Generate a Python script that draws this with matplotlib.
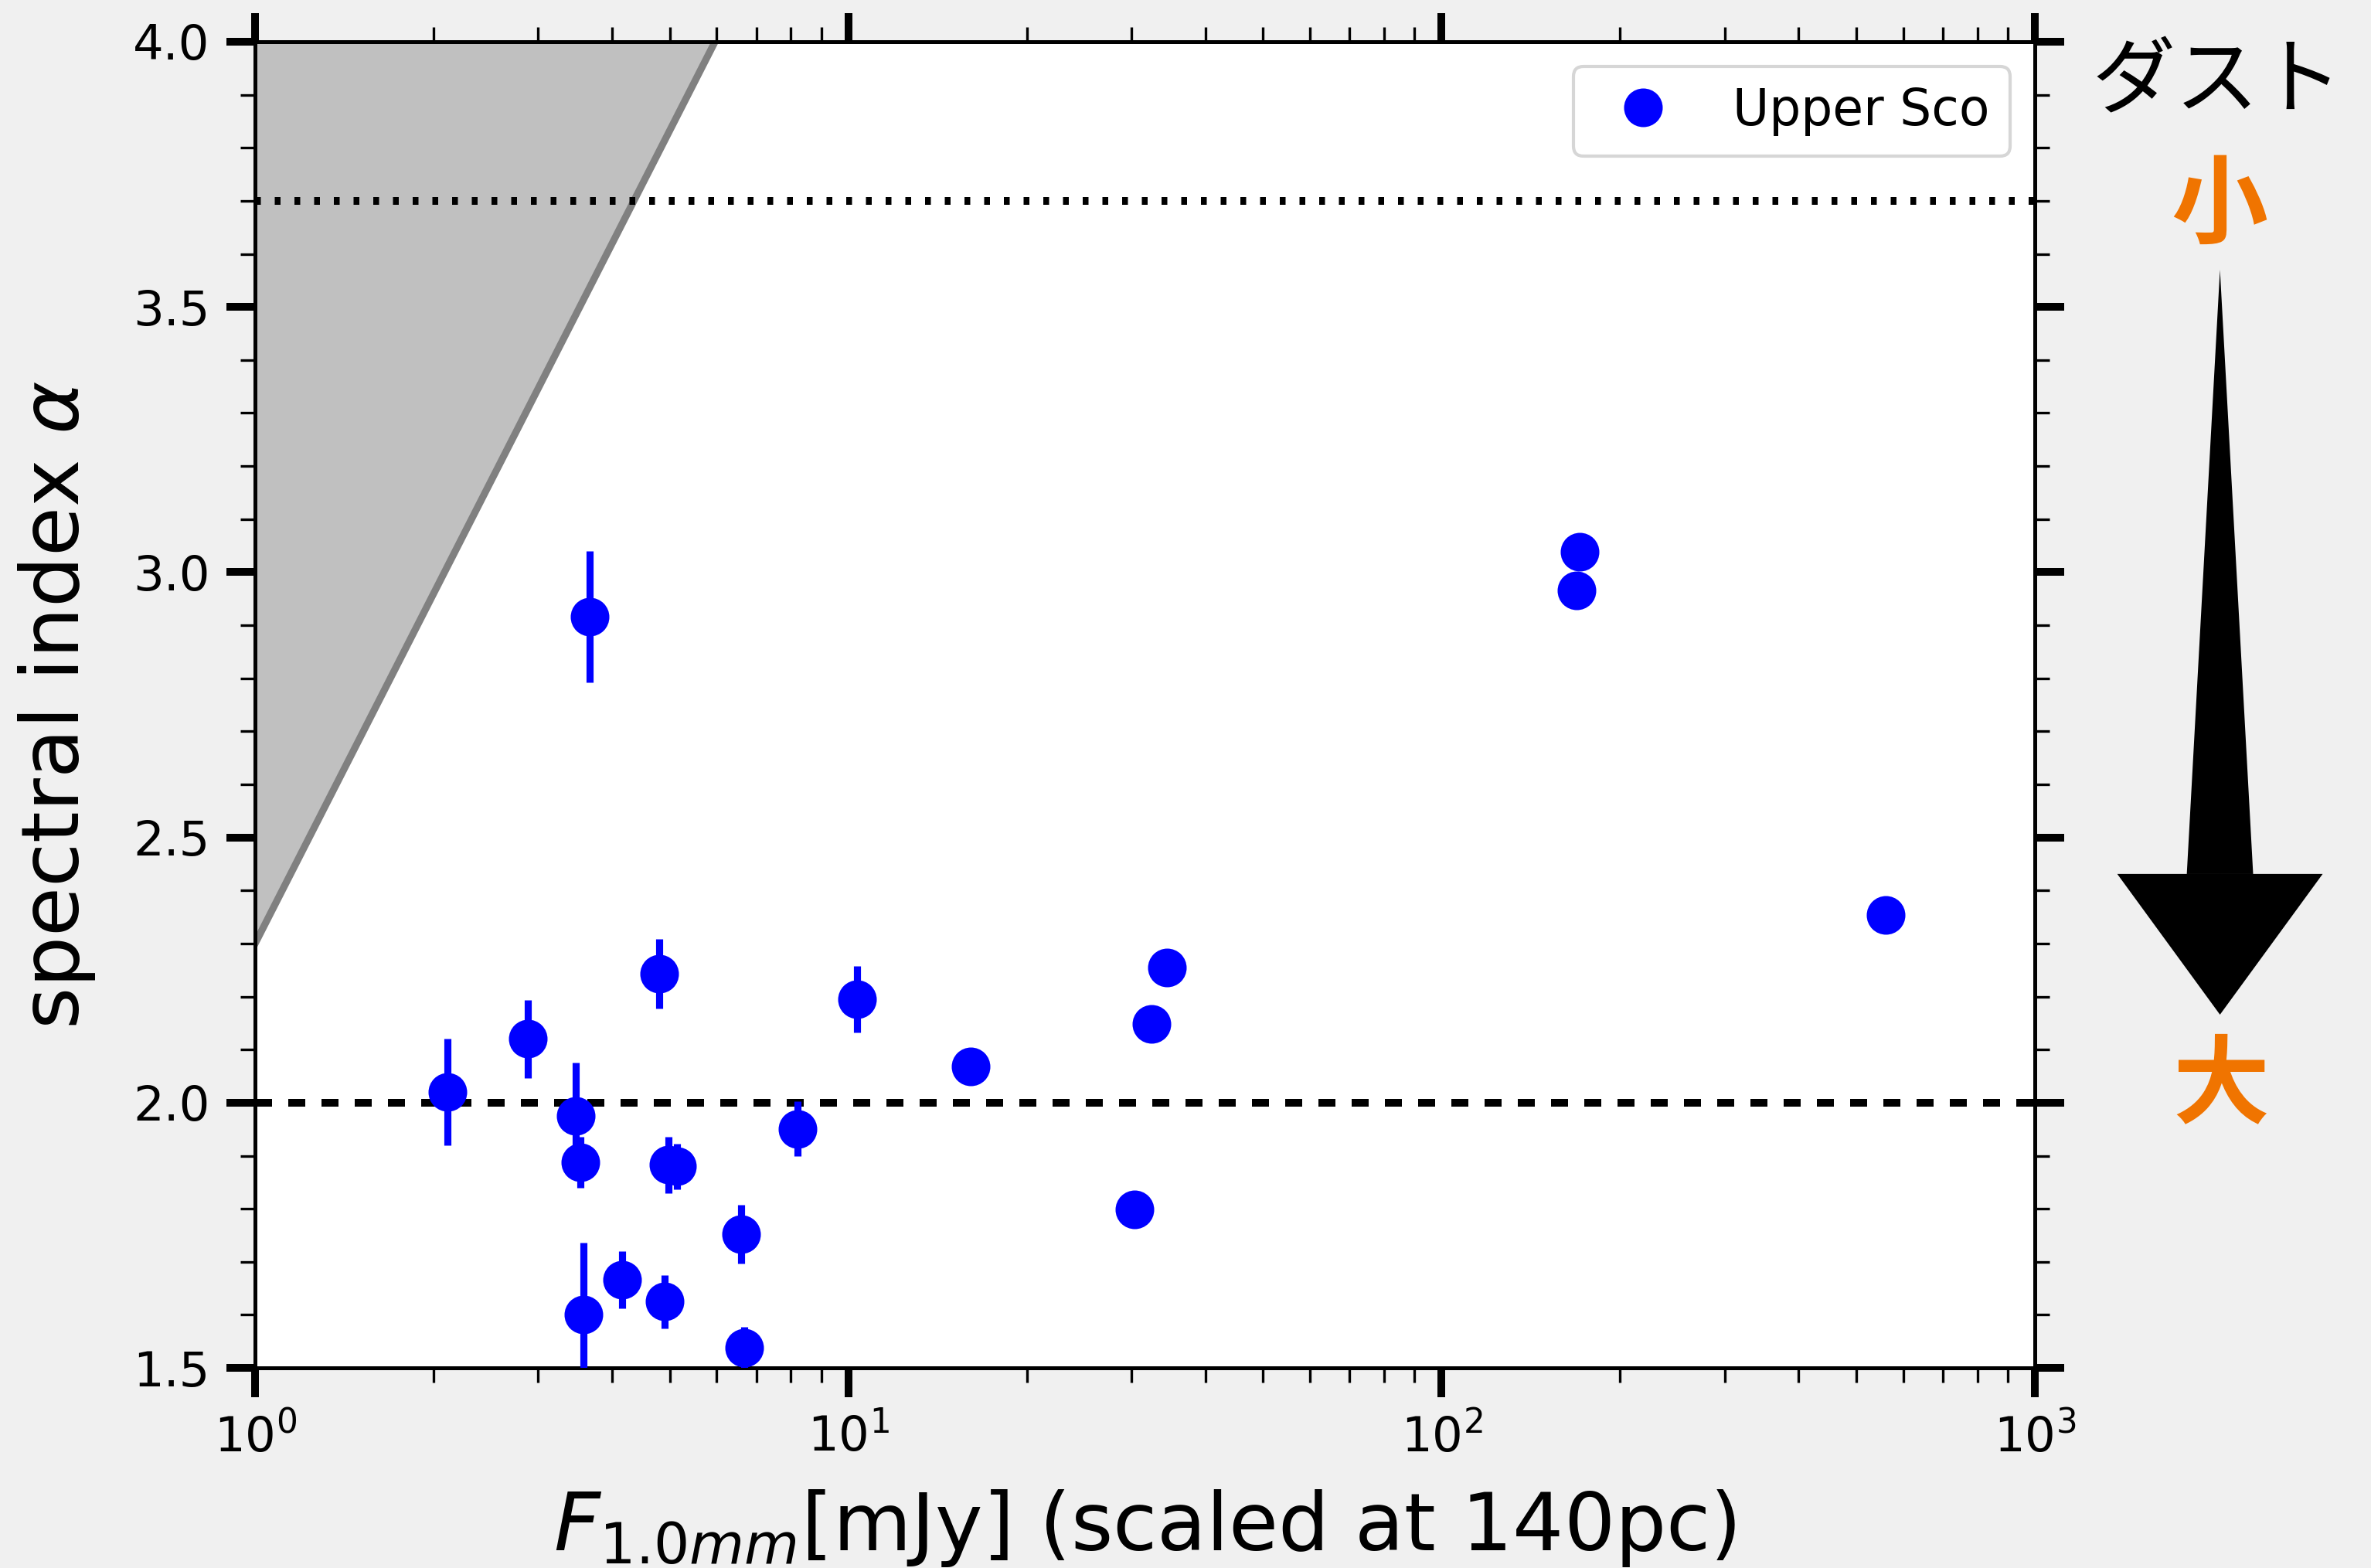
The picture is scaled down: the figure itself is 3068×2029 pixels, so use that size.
import matplotlib
matplotlib.use("Agg")
import matplotlib.pyplot as plt
from matplotlib.ticker import MultipleLocator

# Upper Sco disks: 1.0 mm flux (scaled to 140 pc) vs spectral index
flux = [2.11, 2.88, 3.47, 3.53, 3.58, 3.66, 4.16, 4.80, 4.90, 4.98, 5.14,
        6.59, 6.67, 8.22, 10.34, 16.1, 30.4, 32.4, 34.4, 169.0, 171.1, 560.0]
alpha = [2.02, 2.12, 1.975, 1.888, 1.600, 2.916, 1.666, 2.243, 1.625, 1.883, 1.880,
         1.752, 1.538, 1.951, 2.195, 2.069, 1.799, 2.148, 2.255, 2.966, 3.038, 2.354]
alpha_err = [0.10, 0.074, 0.10, 0.048, 0.136, 0.124, 0.054, 0.065, 0.05, 0.053, 0.043,
             0.055, 0.04, 0.052, 0.063, 0.02, 0.02, 0.02, 0.02, 0.02, 0.02, 0.02]

# excluded (shaded) region boundary
limit_flux = [1.0, 5.96]
limit_alpha = [2.30, 4.0]

ism_alpha = 3.7
bb_alpha = 2.0

plt.rcParams['font.family'] = ['DejaVu Sans', 'Noto Sans CJK JP']

fig = plt.figure(figsize=(3068 / 300, 2029 / 300), dpi=300, facecolor='#f0f0f0')
ax = fig.add_axes([0.1076, 0.1276, 0.7506, 0.8458])

ax.fill([limit_flux[0], limit_flux[1], limit_flux[0]],
        [limit_alpha[0], limit_alpha[1], limit_alpha[1]], color='silver', lw=0, zorder=1)
ax.plot(limit_flux, limit_alpha, color='gray', lw=2.2, zorder=2)

ax.axhline(ism_alpha, color='black', lw=2.4, dashes=(0.75, 1.8), zorder=2)
ax.axhline(bb_alpha, color='black', lw=2.4, dashes=(2.2, 2.1), zorder=2)

ax.errorbar(flux, alpha, yerr=alpha_err, fmt='none', ecolor='blue', elinewidth=2.2, zorder=3)
ax.plot(flux, alpha, 'o', color='blue', ms=11, ls='none', label='Upper Sco', zorder=4)

ax.set_xscale('log')
ax.set_xlim(1, 1000)
ax.set_ylim(1.5, 4.0)
ax.yaxis.set_major_locator(MultipleLocator(0.5))
ax.yaxis.set_minor_locator(MultipleLocator(0.1))

for s in ax.spines.values():
    s.set_linewidth(1.2)
ax.tick_params(which='both', direction='out', top=True, right=True)
ax.tick_params(which='major', length=9, width=2.4, labelsize=15, pad=5)
ax.tick_params(which='minor', length=4.5, width=0.8)

ax.set_xlabel(r'$F_{1.0mm}$[mJy] (scaled at 140pc)', fontsize=25, labelpad=8)
ax.set_ylabel(r'spectral index $\alpha$', fontsize=25, labelpad=11)

ax.legend(loc='upper right', fontsize=15.5)

# dust size annotation on the right
fig.text(0.9353, 0.947, 'ダスト', fontsize=26, family='Noto Sans CJK JP',
         ha='center', va='center')
fig.text(0.936, 0.868, '小', fontsize=30, family='Noto Sans CJK JP', weight='bold',
         color='#f07400', ha='center', va='center')
fig.text(0.9368, 0.3066, '大', fontsize=30, family='Noto Sans CJK JP', weight='bold',
         color='#f07400', ha='center', va='center')

ax.annotate('', xy=(0.9363, 0.828), xytext=(0.9363, 0.4426), xycoords='figure fraction',
            arrowprops=dict(arrowstyle='wedge,tail_width=2.06,shrink_factor=0.5',
                            fc='black', ec='none', lw=0, mutation_scale=10,
                            shrinkA=0, shrinkB=0))
ax.annotate('', xy=(0.9363, 0.3529), xytext=(0.9363, 0.46), xycoords='figure fraction',
            arrowprops=dict(arrowstyle='simple,head_length=4.37,head_width=6.38,tail_width=0.01',
                            fc='black', ec='none', lw=0, mutation_scale=10,
                            shrinkA=0, shrinkB=0))

fig.savefig('out.png', dpi=300, facecolor=fig.get_facecolor())
